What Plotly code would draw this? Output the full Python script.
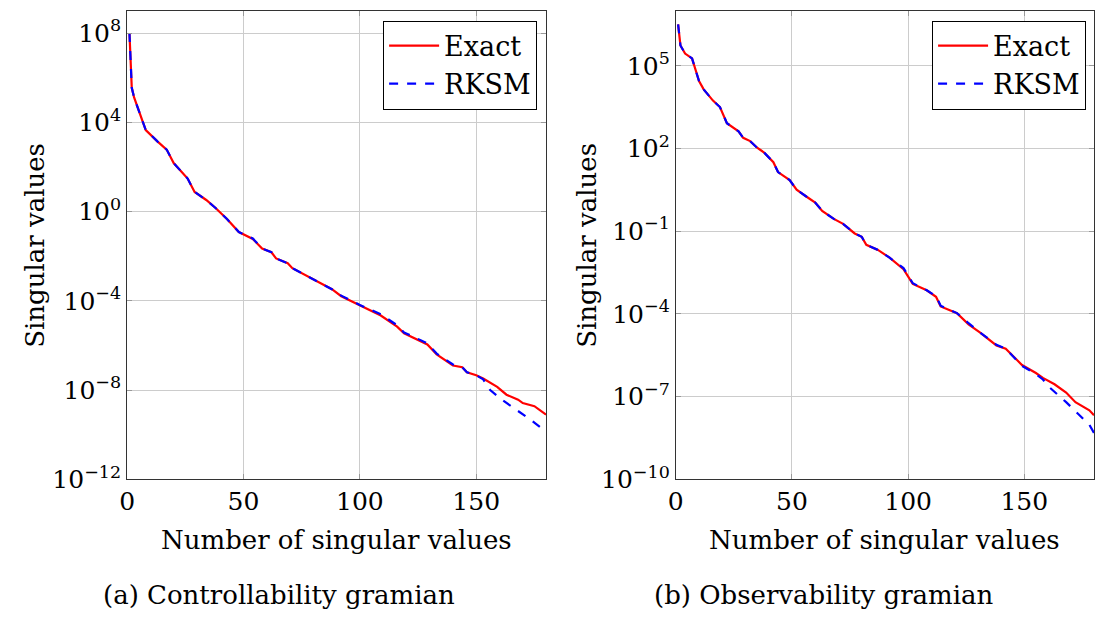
import plotly.graph_objects as go

# ---------------- data ----------------
ctrl_exact_n = [1, 2, 3, 6, 8, 13, 17, 20, 26, 29, 34, 38, 43, 48, 54, 58, 62, 64, 69, 71,
                80, 88, 92, 100, 109, 116, 119, 129, 133, 140, 144, 146, 150, 153, 159, 163,
                168, 170, 175, 180]
ctrl_exact_sv = [1e8, 3.5e5, 1.3e5, 1.7e4, 4.5e3, 1.4e3, 6.0e2, 1.5e2, 3.0e1, 7.6, 3.3, 1.45,
                 0.45, 0.12, 5.9e-2, 2.2e-2, 1.5e-2, 7.9e-3, 4.8e-3, 2.9e-3, 8.9e-4, 3.3e-4,
                 1.6e-4, 6.2e-5, 2.2e-5, 6.9e-6, 3.5e-6, 1.1e-6, 4.0e-7, 1.26e-7, 1.05e-7,
                 6.3e-8, 4.6e-8, 3.3e-8, 1.4e-8, 6.2e-9, 3.7e-9, 2.6e-9, 1.9e-9, 8e-10]

ctrl_rksm_n = [1, 2, 3, 6, 8, 13, 17, 20, 26, 29, 34, 38, 43, 48, 54, 58, 62, 64, 69, 71,
               80, 88, 92, 100, 109, 116, 119, 129, 133, 140, 144, 146, 150, 153, 156, 161,
               167, 173, 180]
ctrl_rksm_sv = [1e8, 3.5e5, 1.3e5, 1.7e4, 4.5e3, 1.4e3, 6.0e2, 1.5e2, 3.0e1, 7.6, 3.3, 1.45,
                0.45, 0.12, 6.2e-2, 2.2e-2, 1.5e-2, 7.9e-3, 4.8e-3, 2.9e-3, 8.9e-4, 3.3e-4,
                1.7e-4, 6.5e-5, 2.5e-5, 8.0e-6, 3.8e-6, 1.25e-6, 4.3e-7, 1.4e-7, 1.05e-7,
                6.3e-8, 4.6e-8, 3.0e-8, 1.0e-8, 3.7e-9, 1.35e-9, 5.0e-10, 1.35e-10]

obs_exact_n = [1, 2, 4, 7, 10, 12, 16, 19, 22, 27, 29, 32, 35, 38, 42, 44, 49, 52, 56, 60,
               63, 68, 72, 77, 80, 82, 87, 92, 98, 102, 108, 112, 114, 121, 126, 131, 138,
               142, 149, 155, 158, 163, 168, 172, 178, 180]
obs_exact_sv = [3.2e6, 5.5e5, 2.8e5, 1.86e5, 2.8e4, 1.4e4, 5.5e3, 3.2e3, 8.3e2, 4.2e2, 2.45e2,
                1.86e2, 1.07e2, 7.2e1, 3.2e1, 1.4e1, 7.2, 3.2, 1.86, 1.1, 0.55, 0.28, 0.186,
                8.3e-2, 6.3e-2, 3.2e-2, 2.1e-2, 1.1e-2, 4.2e-3, 1.23e-3, 7.2e-4, 4.2e-4,
                1.86e-4, 1.07e-4, 4.2e-5, 2.1e-5, 7.2e-6, 5.5e-6, 1.4e-6, 7.2e-7, 4.8e-7,
                2.8e-7, 1.4e-7, 6.3e-8, 3.2e-8, 2.1e-8]

obs_rksm_n = [1, 2, 4, 7, 10, 12, 16, 19, 22, 27, 29, 32, 35, 38, 42, 44, 49, 52, 56, 60,
              63, 68, 72, 77, 80, 82, 87, 92, 98, 102, 108, 112, 114, 121, 126, 131, 138,
              142, 149, 155, 158, 161, 168, 178, 180]
obs_rksm_sv = [3.2e6, 5.5e5, 2.8e5, 1.86e5, 2.8e4, 1.4e4, 5.5e3, 3.2e3, 8.3e2, 4.2e2, 2.45e2,
               1.86e2, 1.07e2, 7.2e1, 3.2e1, 1.4e1, 7.2, 3.2, 1.86, 1.1, 0.55, 0.28, 0.186,
               8.3e-2, 6.3e-2, 3.2e-2, 2.1e-2, 1.1e-2, 4.6e-3, 1.3e-3, 7.2e-4, 4.4e-4,
               2.0e-4, 1.07e-4, 4.6e-5, 2.1e-5, 7.6e-6, 5.5e-6, 1.3e-6, 6.6e-7, 4.2e-7,
               2.1e-7, 6.3e-8, 9.5e-9, 4.8e-9]

x_ticks = [0, 50, 100, 150]
ctrl_y_ticks = [1e-12, 1e-8, 1e-4, 1e0, 1e4, 1e8]
ctrl_y_labels = ["10<sup>−12</sup>", "10<sup>−8</sup>", "10<sup>−4</sup>", "10<sup>0</sup>",
                 "10<sup>4</sup>", "10<sup>8</sup>"]
obs_y_ticks = [1e-10, 1e-7, 1e-4, 1e-1, 1e2, 1e5]
obs_y_labels = ["10<sup>−10</sup>", "10<sup>−7</sup>", "10<sup>−4</sup>", "10<sup>−1</sup>",
                "10<sup>2</sup>", "10<sup>5</sup>"]

# ---------------- figure ----------------
W, H = 1096, 630
FONT = "'DejaVu Serif', serif"
RED = "#ff0000"
BLUE = "#0000ff"

fig = go.Figure()
fig.add_trace(go.Scatter(x=ctrl_exact_n, y=ctrl_exact_sv, mode="lines", name="Exact",
                         line=dict(color=RED, width=2.2), xaxis="x", yaxis="y", legend="legend"))
fig.add_trace(go.Scatter(x=ctrl_rksm_n, y=ctrl_rksm_sv, mode="lines", name="RKSM",
                         line=dict(color=BLUE, width=2.2, dash="dash"), xaxis="x", yaxis="y",
                         legend="legend"))
fig.add_trace(go.Scatter(x=obs_exact_n, y=obs_exact_sv, mode="lines", name="Exact",
                         line=dict(color=RED, width=2.2), xaxis="x2", yaxis="y2", legend="legend2"))
fig.add_trace(go.Scatter(x=obs_rksm_n, y=obs_rksm_sv, mode="lines", name="RKSM",
                         line=dict(color=BLUE, width=2.2, dash="dash"), xaxis="x2", yaxis="y2",
                         legend="legend2"))

def px_x(p):
    return p / W

def px_y(p):
    return (H - p) / H

TICK_SIZE = 25
TITLE_SIZE = 26
LEGEND_SIZE = 27

common_x = dict(range=[0, 180], tickvals=x_ticks, showgrid=True, gridcolor="#cccccc",
                gridwidth=1, showline=True, linecolor="#333333", linewidth=1, mirror="allticks",
                ticks="inside", ticklen=5, tickcolor="#999999", zeroline=False,
                tickfont=dict(family=FONT, size=TICK_SIZE, color="black"))
common_y = dict(type="log", showgrid=True, gridcolor="#cccccc", gridwidth=1, showline=True,
                linecolor="#333333", linewidth=1, mirror="allticks", ticks="inside", ticklen=5,
                tickcolor="#999999", zeroline=False,
                tickfont=dict(family=FONT, size=TICK_SIZE, color="black"))

left_x0, left_x1 = 120, 542
right_x0, right_x1 = 672.7, 1094
top, bottom = 11, 491

legend_common = dict(xanchor="right", yanchor="top", bgcolor="white", bordercolor="black",
                     borderwidth=1, font=dict(family=FONT, size=LEGEND_SIZE),
                     tracegroupgap=0, itemwidth=50)

fig.update_layout(
    width=W, height=H,
    margin=dict(l=0, r=0, t=0, b=0),
    paper_bgcolor="white", plot_bgcolor="white",
    font=dict(family=FONT, size=TICK_SIZE, color="black"),
    xaxis=dict(domain=[px_x(left_x0), px_x(left_x1)], anchor="y", **common_x),
    yaxis=dict(domain=[px_y(bottom), px_y(top)], anchor="x", range=[-12, 9],
               tickvals=ctrl_y_ticks, ticktext=ctrl_y_labels, **common_y),
    xaxis2=dict(domain=[px_x(right_x0), px_x(right_x1)], anchor="y2", **common_x),
    yaxis2=dict(domain=[px_y(bottom), px_y(top)], anchor="x2", range=[-10, 7],
                tickvals=obs_y_ticks, ticktext=obs_y_labels, **common_y),
    legend=dict(x=px_x(533), y=px_y(21), **legend_common),
    legend2=dict(x=px_x(1086), y=px_y(21), **legend_common),
    showlegend=True,
)

ann_font = dict(family=FONT, size=TITLE_SIZE, color="black")
annotations = [
    dict(text="Number of singular values", x=px_x((left_x0 + left_x1) / 2), y=px_y(553),
         xref="paper", yref="paper", showarrow=False, font=ann_font, xanchor="center",
         yanchor="middle"),
    dict(text="Number of singular values", x=px_x((right_x0 + right_x1) / 2), y=px_y(553),
         xref="paper", yref="paper", showarrow=False, font=ann_font, xanchor="center",
         yanchor="middle"),
    dict(text="Singular values", x=px_x(27), y=px_y((top + bottom) / 2), xref="paper",
         yref="paper", showarrow=False, font=ann_font, textangle=-90, xanchor="center",
         yanchor="middle"),
    dict(text="Singular values", x=px_x(583), y=px_y((top + bottom) / 2), xref="paper",
         yref="paper", showarrow=False, font=ann_font, textangle=-90, xanchor="center",
         yanchor="middle"),
    dict(text="(a) Controllability gramian", x=px_x(273), y=px_y(610), xref="paper",
         yref="paper", showarrow=False, font=ann_font, xanchor="center", yanchor="middle"),
    dict(text="(b) Observability gramian", x=px_x(822), y=px_y(610), xref="paper",
         yref="paper", showarrow=False, font=ann_font, xanchor="center", yanchor="middle"),
]
fig.update_layout(annotations=annotations)

fig.write_html("out.html")
